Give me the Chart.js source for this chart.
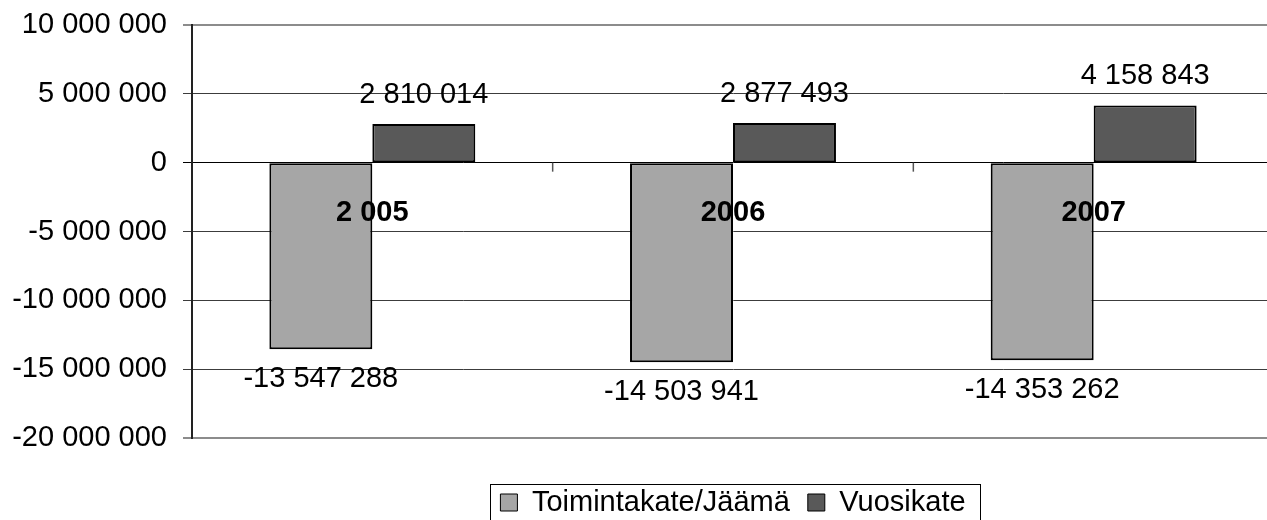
<!DOCTYPE html>
<html lang="fi">
<head>
<meta charset="utf-8">
<title>Toimintakate ja vuosikate</title>
<script src="https://cdn.jsdelivr.net/npm/chart.js@4.4.1/dist/chart.umd.min.js"></script>
<style>
  html, body { margin: 0; padding: 0; background: #fff; overflow: hidden; }
  #kaavio-wrap { position: relative; width: 1290px; height: 527px; }
</style>
</head>
<body>
<div id="kaavio-wrap"><canvas id="kaavio"></canvas></div>
<script>
const vuodet = ["2 005", "2006", "2007"];
const toimintakate = [-13547288, -14503941, -14353262];
const vuosikate = [2810014, 2877493, 4158843];
const yTicks = [-20000000, -15000000, -10000000, -5000000, 0, 5000000, 10000000];

const fontti = "'Liberation Sans', Arial, sans-serif";

// 13547288 -> "13 547 288"
function muotoile(n) {
  return String(n).replace(/\B(?=(\d{3})+(?!\d))/g, " ");
}

const merkinnat = {
  id: "merkinnat",
  afterDatasetsDraw(chart) {
    const ctx = chart.ctx;
    const x = chart.scales.x;
    const y = chart.scales.y;
    const y0 = y.getPixelForValue(0);
    ctx.save();

    // pienet jakoviivat nollatasolla
    ctx.strokeStyle = "#555";
    ctx.lineWidth = 1.5;
    for (let i = 1; i < vuodet.length; i++) {
      const xp = (x.getPixelForValue(i - 1) + x.getPixelForValue(i)) / 2;
      ctx.beginPath();
      ctx.moveTo(xp, y0);
      ctx.lineTo(xp, y0 + 9);
      ctx.stroke();
    }

    // arvot pylväiden päihin
    ctx.fillStyle = "#000";
    ctx.font = "29px " + fontti;
    ctx.textAlign = "center";
    ctx.textBaseline = "middle";
    chart.data.datasets.forEach((ds, di) => {
      chart.getDatasetMeta(di).data.forEach((bar, i) => {
        const v = ds.data[i];
        const yp = v >= 0 ? bar.y - 29 : bar.y + 30;
        ctx.fillText(muotoile(v), bar.x, yp);
      });
    });

    // vuodet
    ctx.font = "bold 29px " + fontti;
    vuodet.forEach((v, i) => ctx.fillText(v, x.getPixelForValue(i), y0 + 50));
    ctx.restore();
  },
  afterDraw(chart) {
    // kehys selitteen ympärille
    const hb = chart.legend.legendHitBoxes;
    if (!hb || !hb.length) return;
    const first = hb[0];
    const last = hb[hb.length - 1];
    const left = Math.round(first.left - 10);
    const right = Math.round(last.left + last.width + 14);
    const top = Math.round(first.top + first.height / 2 - 19);
    const ctx = chart.ctx;
    ctx.save();
    ctx.strokeStyle = "#000";
    ctx.lineWidth = 1;
    ctx.strokeRect(left + 0.5, top + 0.5, right - left, 40);
    ctx.restore();
  }
};

const ctx = document.getElementById("kaavio").getContext("2d");

new Chart(ctx, {
  type: "bar",
  data: {
    labels: vuodet,
    datasets: [
      {
        label: "Toimintakate/Jäämä",
        data: toimintakate,
        backgroundColor: "#a6a6a6",
        borderColor: "#000",
        borderWidth: 2,
        borderSkipped: false
      },
      {
        label: "Vuosikate",
        data: vuosikate,
        backgroundColor: "#595959",
        borderColor: "#000",
        borderWidth: 2,
        borderSkipped: false
      }
    ]
  },
  options: {
    responsive: true,
    maintainAspectRatio: false,
    animation: false,
    events: [],
    categoryPercentage: 0.571,
    barPercentage: 1,
    layout: { padding: { top: 25, right: 16, bottom: 0, left: 0 } },
    scales: {
      x: {
        grid: { display: false },
        border: { display: false },
        ticks: { display: false },
        afterFit(scale) { scale.height = 32; }
      },
      y: {
        min: -20000000,
        max: 10000000,
        afterBuildTicks(scale) {
          scale.ticks = yTicks.map(v => ({ value: v }));
        },
        afterFit(scale) {
          scale.width = 192;
          scale.paddingTop = 0;
          scale.paddingBottom = 0;
        },
        ticks: {
          color: "#000",
          padding: 16,
          font: { family: fontti, size: 29 },
          callback: (v) => muotoile(v)
        },
        grid: {
          tickLength: 9,
          color: (c) => {
            const v = c.tick && c.tick.value;
            if (v === 10000000 || v === -20000000) return "#8c8c8c";
            if (v === 0) return "#000";
            return "#3c3c3c";
          },
          lineWidth: (c) => {
            const v = c.tick && c.tick.value;
            return (v === 10000000 || v === -20000000) ? 2 : 1;
          }
        },
        border: { color: "#222", width: 2 }
      }
    },
    plugins: {
      tooltip: { enabled: false },
      legend: {
        position: "bottom",
        fullSize: false,
        labels: {
          color: "#000",
          font: { family: fontti, size: 29 },
          boxWidth: 17,
          boxHeight: 17,
          padding: 18,
          generateLabels: (chart) =>
            Chart.defaults.plugins.legend.labels.generateLabels(chart).map(l => ({ ...l, lineWidth: 1 }))
        }
      }
    }
  },
  plugins: [merkinnat]
});
</script>
</body>
</html>
